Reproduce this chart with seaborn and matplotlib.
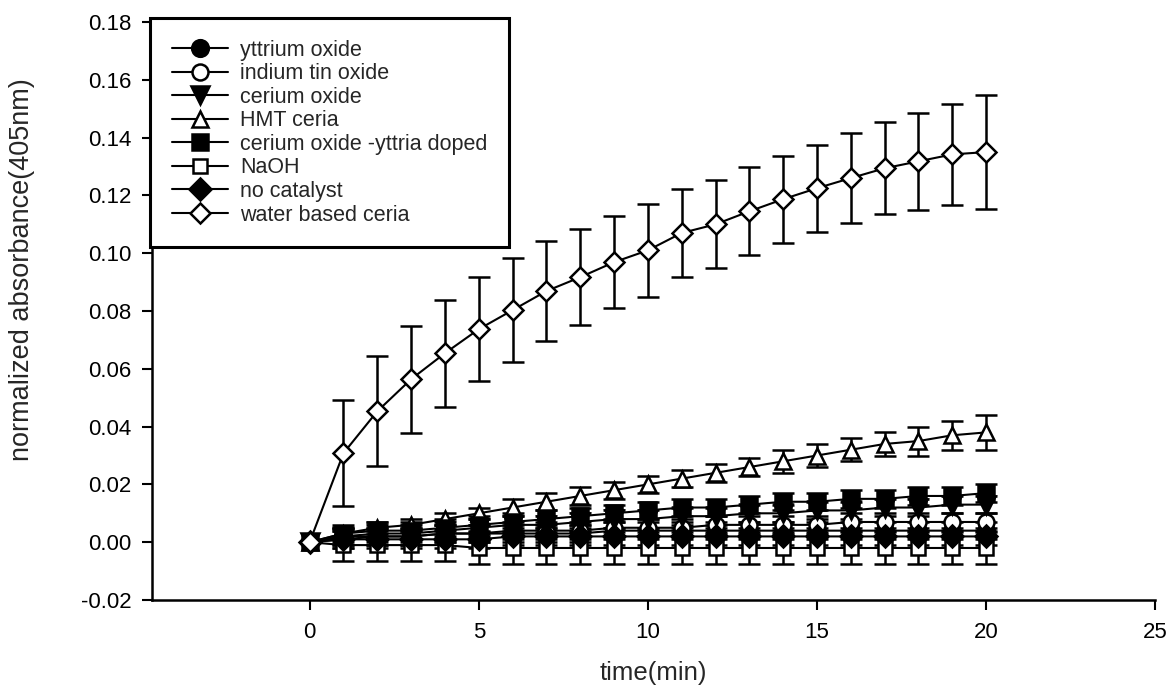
import numpy as np
import pandas as pd
import seaborn as sns
import matplotlib.pyplot as plt
from matplotlib.ticker import FormatStrFormatter

# time points (min)
time_min = list(range(21))

yttrium_oxide = [0, 0.002, 0.002, 0.002, 0.003, 0.003, 0.003, 0.003, 0.003, 0.004, 0.004,
                 0.004, 0.004, 0.004, 0.004, 0.004, 0.004, 0.004, 0.004, 0.004, 0.004]
yttrium_oxide_err = [0] + [0.003] * 20

ito = [0, 0.001, 0.002, 0.002, 0.003, 0.003, 0.004, 0.004, 0.004, 0.005, 0.005,
       0.005, 0.006, 0.006, 0.006, 0.006, 0.007, 0.007, 0.007, 0.007, 0.007]
ito_err = [0] + [0.003] * 20

cerium_oxide = [0, 0.002, 0.003, 0.003, 0.004, 0.005, 0.006, 0.006, 0.007, 0.008, 0.008,
                0.009, 0.009, 0.010, 0.010, 0.011, 0.011, 0.012, 0.012, 0.013, 0.013]
cerium_oxide_err = [0] + [0.003] * 20

hmt_ceria = [0, 0.003, 0.005, 0.006, 0.008, 0.010, 0.012, 0.014, 0.016, 0.018, 0.020,
             0.022, 0.024, 0.026, 0.028, 0.030, 0.032, 0.034, 0.035, 0.037, 0.038]
hmt_ceria_err = [0, 0.002, 0.002, 0.002, 0.002, 0.002, 0.003, 0.003, 0.003, 0.003, 0.003,
                 0.003, 0.003, 0.003, 0.004, 0.004, 0.004, 0.004, 0.005, 0.005, 0.006]

yttria_doped = [0, 0.003, 0.004, 0.004, 0.005, 0.006, 0.007, 0.008, 0.009, 0.010, 0.011,
                0.012, 0.012, 0.013, 0.014, 0.014, 0.015, 0.015, 0.016, 0.016, 0.017]
yttria_doped_err = [0] + [0.003] * 20

naoh = [0, -0.001, -0.001, -0.001, -0.001, -0.002, -0.002, -0.002, -0.002, -0.002, -0.002,
        -0.002, -0.002, -0.002, -0.002, -0.002, -0.002, -0.002, -0.002, -0.002, -0.002]
naoh_err = [0] + [0.0055] * 20

no_catalyst = [0, 0.001, 0.001, 0.001, 0.001, 0.001, 0.002, 0.002, 0.002, 0.002, 0.002,
               0.002, 0.002, 0.002, 0.002, 0.002, 0.002, 0.002, 0.002, 0.002, 0.002]
no_catalyst_err = [0] + [0.003] * 20

water_ceria = [0, 0.0308, 0.0453, 0.0564, 0.0654, 0.0737, 0.0803, 0.0869, 0.0917, 0.0969, 0.101,
               0.107, 0.110, 0.1145, 0.1187, 0.1225, 0.126, 0.1294, 0.1318, 0.1342, 0.135]
water_ceria_err = [0, 0.0183, 0.019, 0.0185, 0.0185, 0.018, 0.018, 0.0173, 0.0167, 0.016, 0.016,
                   0.0152, 0.0152, 0.0152, 0.015, 0.015, 0.0155, 0.016, 0.0168, 0.0176, 0.0197]

labels = ["yttrium oxide", "indium tin oxide", "cerium oxide", "HMT ceria",
          "cerium oxide -yttria doped", "NaOH", "no catalyst", "water based ceria"]
values = [yttrium_oxide, ito, cerium_oxide, hmt_ceria, yttria_doped, naoh, no_catalyst, water_ceria]
errors = [yttrium_oxide_err, ito_err, cerium_oxide_err, hmt_ceria_err, yttria_doped_err,
          naoh_err, no_catalyst_err, water_ceria_err]
markers = ["o", "o", "v", "^", "s", "s", "D", "D"]
filled = [True, False, True, False, True, False, True, False]
msizes = [12, 11.5, 12.5, 12, 11, 10.5, 11, 10.5]

sns.set_style("ticks")
plt.rcParams['font.family'] = ['Liberation Sans', 'DejaVu Sans']

fig = plt.figure(figsize=(11.72, 6.93), dpi=100)
ax = fig.add_axes([0.1297, 0.1342, 0.856, 0.834])

for lab, vals, errs, mk, fl, ms in zip(labels, values, errors, markers, filled, msizes):
    df = pd.DataFrame({"time": time_min, "abs": vals})
    ax.errorbar(time_min, vals, yerr=errs, fmt="none", ecolor="black",
                elinewidth=1.8, capsize=8, capthick=1.8, zorder=2)
    sns.lineplot(data=df, x="time", y="abs", ax=ax, color="black", linewidth=1.5,
                 marker=mk, markersize=ms, markeredgecolor="black", markeredgewidth=1.8,
                 markerfacecolor="black" if fl else "white", label=lab, zorder=3)

ax.set_xlim(-4.66, 25)
ax.set_ylim(-0.02, 0.18)
ax.set_xticks([0, 5, 10, 15, 20, 25])
ax.set_yticks(np.arange(-0.02, 0.181, 0.02))
ax.yaxis.set_major_formatter(FormatStrFormatter("%.2f"))
ax.tick_params(axis="both", direction="out", length=7, width=1.5, labelsize=16, colors="black")
ax.tick_params(axis="x", pad=9)
ax.tick_params(axis="y", pad=8)
sns.despine(ax=ax)
for side in ["left", "bottom"]:
    ax.spines[side].set_linewidth(1.8)
    ax.spines[side].set_color("black")

ax.set_xlabel("time(min)", fontsize=18.5, labelpad=13)
ax.set_ylabel("normalized absorbance(405nm)", fontsize=19.5)
ax.yaxis.set_label_coords(-0.117, 0.571)

leg = ax.legend(loc="upper left", bbox_to_anchor=(-0.002, 1.007), borderaxespad=0,
                fontsize=15.5, frameon=True, fancybox=False, handlelength=2.6,
                labelspacing=0.12, borderpad=1.0, handletextpad=0.6)
leg.get_frame().set_edgecolor("black")
leg.get_frame().set_linewidth(2.2)
leg.get_frame().set_alpha(1)

fig.savefig("out.png", dpi=100)
